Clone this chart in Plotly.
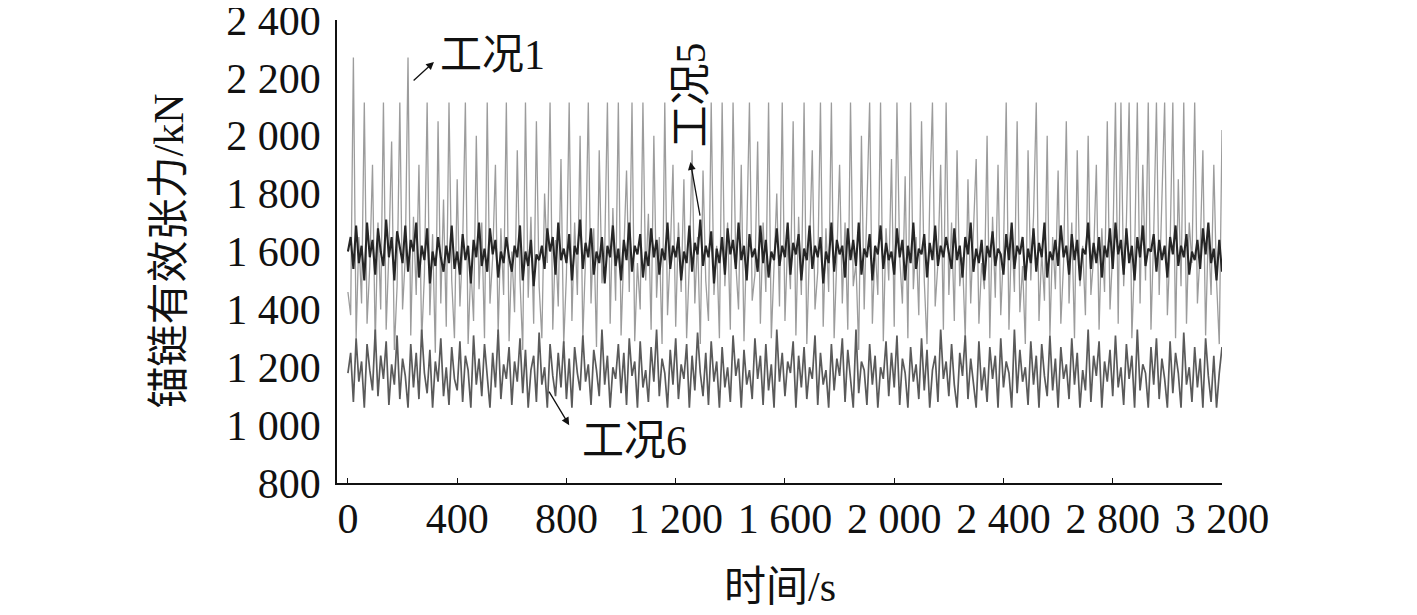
import plotly.graph_objects as go

# time axis (s), sampled every 10 s
time_s = list(range(0, 3201, 10))

# 工况1 (light gray)
case1 = [
    1460, 1380, 2270, 1300, 1650, 1420, 2115, 1350, 1550, 1900, 1280, 1700, 1400, 2115, 1330, 1600, 1980, 1260, 1480, 2115,
    1400, 1580, 2270, 1310, 1720, 1450, 1900, 1290, 1520, 2115, 1380, 1660, 1250, 2050, 1420, 1780, 1340, 2115, 1500, 1300,
    1850, 1410, 1620, 2115, 1280, 1550, 1360, 2000, 1470, 1700, 1300, 2115, 1420, 1580, 1900, 1320, 1680, 1450, 2115, 1290,
    1600, 1390, 1950, 1500, 1260, 2115, 1440, 1720, 1350, 2050, 1480, 1300, 1800, 1560, 2115, 1330, 1640, 1410, 1920, 1280,
    1520, 2115, 1360, 1700, 1450, 2000, 1300, 1580, 2115, 1420, 1680, 1270, 1950, 1490, 1600, 2115, 1350, 1750, 1430, 2115,
    1310, 1620, 1880, 1460, 2115, 1290, 1560, 1400, 2115, 1500, 1730, 1330, 2000, 1440, 1650, 1280, 2115, 1380, 1590, 1900,
    1340, 1700, 1460, 1850, 1300, 1560, 1950, 1420, 1650, 1280, 1880, 1500, 1360, 2115, 1450, 1620, 1300, 2115, 1480, 1700,
    1330, 2115, 1560, 1400, 1900, 1290, 1650, 2115, 1430, 1520, 1980, 1350, 1700, 1460, 2115, 1300, 1580, 1800, 1410, 2115,
    1360, 1640, 1470, 2050, 1310, 1720, 1450, 2115, 1280, 1600, 1950, 1400, 1530, 2115, 1340, 1680, 1460, 2115, 1300, 1580,
    1900, 1420, 1700, 1330, 2115, 1480, 1560, 1260, 2000, 1400, 1750, 2115, 1350, 1620, 1450, 2115, 1290, 1680, 1500, 1920,
    1340, 2115, 1580, 1420, 1860, 1300, 2115, 1470, 1650, 1380, 2050, 1500, 1280, 1780, 2115, 1410, 1560, 1900, 1330, 2115,
    1450, 1700, 1360, 1950, 1480, 1580, 1300, 1850, 1420, 1650, 1920, 1350, 1560, 1470, 2000, 1300, 1720, 1440, 1900, 1380,
    1600, 2115, 1330, 1680, 1460, 2050, 1390, 1550, 1280, 1950, 1500, 1720, 2115, 1360, 1600, 1430, 2000, 1310, 1650, 1470,
    1880, 1350, 1560, 2050, 1420, 1700, 1300, 1950, 1480, 1620, 1380, 2000, 1450, 1580, 1900, 1330, 1680, 1460, 2050, 1400,
    1600, 2115, 1350, 2115, 1480, 1700, 2115, 1300, 1580, 2115, 1420, 1900, 1500, 2115, 1330, 1660, 2115, 1450, 1750, 2115,
    1380, 1620, 2115, 1300, 1850, 1480, 2115, 1350, 1700, 1560, 2115, 1420, 1600, 1950, 1310, 1680, 1450, 1900, 1500, 1280,
    2020,
]

# 工况5 (dark)
case5 = [
    1600, 1650, 1540, 1690, 1560, 1620, 1500, 1700, 1580, 1640, 1520, 1680, 1600, 1550, 1710, 1580, 1650, 1500, 1670, 1610,
    1560, 1690, 1530, 1640, 1600, 1700, 1510, 1620, 1570, 1680, 1490, 1600, 1550, 1650, 1580, 1530, 1620, 1560, 1690, 1540,
    1600, 1520, 1660, 1570, 1620, 1490, 1640, 1580, 1700, 1550, 1610, 1530, 1680, 1590, 1640, 1510, 1600, 1560, 1650, 1580,
    1530, 1620, 1580, 1690, 1500, 1600, 1550, 1640, 1480, 1590, 1570, 1620, 1540, 1680, 1600, 1650, 1520, 1700, 1570, 1610,
    1560, 1660, 1500, 1620, 1590, 1710, 1540, 1630, 1580, 1680, 1520, 1600, 1560, 1650, 1490, 1620, 1580, 1690, 1550, 1610,
    1500, 1640, 1570, 1700, 1530, 1620, 1590, 1660, 1510, 1600, 1550, 1680, 1580, 1640, 1520, 1610, 1570, 1700, 1540, 1620,
    1580, 1650, 1500, 1600, 1560, 1690, 1530, 1630, 1590, 1710, 1550, 1620, 1580, 1670, 1490, 1610, 1560, 1650, 1520, 1680,
    1590, 1640, 1540, 1700, 1570, 1620, 1500, 1660, 1580, 1610, 1530, 1690, 1560, 1640, 1510, 1600, 1570, 1680, 1550, 1620,
    1580, 1700, 1520, 1630, 1590, 1660, 1500, 1610, 1570, 1690, 1540, 1620, 1580, 1650, 1490, 1600, 1560, 1700, 1530, 1640,
    1590, 1620, 1510, 1680, 1570, 1640, 1550, 1700, 1520, 1610, 1580, 1660, 1500, 1620, 1590, 1690, 1540, 1630, 1570, 1600,
    1520, 1680, 1580, 1640, 1500, 1620, 1560, 1700, 1540, 1610, 1590, 1660, 1510, 1630, 1570, 1690, 1550, 1620, 1580, 1650,
    1600, 1540, 1680, 1570, 1620, 1510, 1650, 1590, 1700, 1530, 1610, 1560, 1640, 1500, 1620, 1580, 1670, 1550, 1610, 1590,
    1520, 1660, 1570, 1700, 1540, 1620, 1590, 1650, 1500, 1610, 1560, 1680, 1530, 1630, 1580, 1700, 1510, 1600, 1570, 1640,
    1550, 1690, 1580, 1620, 1520, 1660, 1570, 1640, 1500, 1610, 1590, 1700, 1540, 1630, 1560, 1650, 1510, 1620, 1580, 1680,
    1540, 1700, 1590, 1640, 1520, 1680, 1560, 1620, 1500, 1650, 1580, 1690, 1550, 1610, 1600, 1660, 1530, 1640, 1570, 1620,
    1510, 1650, 1590, 1690, 1550, 1620, 1580, 1660, 1520, 1600, 1570, 1640, 1540, 1680, 1590, 1700, 1560, 1610, 1500, 1640,
    1530,
]

# 工况6 (medium gray)
case6 = [
    1180, 1250, 1080, 1300, 1150, 1220, 1060, 1280, 1190, 1120, 1330, 1100, 1240, 1160, 1290, 1070, 1210, 1140, 1310, 1090,
    1230, 1170, 1060, 1280, 1130, 1250, 1090, 1330, 1180, 1110, 1260, 1060, 1220, 1150, 1300, 1100, 1200, 1070, 1270, 1160,
    1120, 1290, 1080, 1240, 1190, 1060, 1310, 1140, 1230, 1100, 1280, 1170, 1060, 1250, 1130, 1330, 1090, 1210, 1160, 1270,
    1070, 1220, 1150, 1300, 1110, 1260, 1060, 1190, 1240, 1080, 1320, 1140, 1200, 1060, 1280, 1170, 1100, 1250, 1130, 1290,
    1090, 1230, 1060, 1270, 1180, 1120, 1310, 1150, 1210, 1070, 1260, 1190, 1100, 1330, 1140, 1240, 1060, 1200, 1160, 1280,
    1110, 1250, 1070, 1300, 1170, 1220, 1060, 1290, 1130, 1190, 1080, 1270, 1150, 1330, 1100, 1230, 1180, 1060, 1260, 1140,
    1300, 1090, 1210, 1160, 1280, 1060, 1240, 1120, 1320, 1180, 1100, 1250, 1070, 1290, 1150, 1220, 1060, 1270, 1130, 1200,
    1080, 1310, 1170, 1230, 1060, 1260, 1140, 1190, 1090, 1300, 1160, 1240, 1070, 1280, 1120, 1210, 1060, 1330, 1150, 1250,
    1100, 1220, 1180, 1290, 1060, 1240, 1130, 1270, 1090, 1200, 1160, 1310, 1070, 1250, 1140, 1190, 1060, 1280, 1120, 1230,
    1170, 1300, 1080, 1260, 1150, 1060, 1330, 1110, 1220, 1190, 1070, 1280, 1140, 1240, 1060, 1200, 1160, 1290, 1100, 1250,
    1130, 1310, 1070, 1230, 1180, 1060, 1270, 1150, 1210, 1090, 1300, 1120, 1260, 1060, 1190, 1240, 1080, 1330, 1160, 1220,
    1100, 1280, 1140, 1060, 1250, 1170, 1310, 1090, 1230, 1150, 1060, 1290, 1120, 1200, 1080, 1270, 1160, 1240, 1060, 1300,
    1130, 1220, 1180, 1060, 1330, 1110, 1260, 1150, 1200, 1070, 1290, 1140, 1240, 1060, 1280, 1170, 1100, 1310, 1120, 1230,
    1060, 1270, 1160, 1210, 1090, 1300, 1140, 1250, 1060, 1190, 1120, 1330, 1080, 1240, 1170, 1290, 1060, 1220, 1150, 1260,
    1100, 1310, 1130, 1200, 1070, 1280, 1160, 1240, 1060, 1330, 1120, 1210, 1180, 1060, 1270, 1140, 1300, 1090, 1230, 1160,
    1060, 1290, 1110, 1250, 1180, 1060, 1320, 1140, 1200, 1080, 1270, 1130, 1230, 1060, 1300, 1170, 1080, 1240, 1060, 1180,
    1270,
]

x_tickvals = [0, 400, 800, 1200, 1600, 2000, 2400, 2800, 3200]
x_ticktext = ["0", "400", "800", "1 200", "1 600", "2 000", "2 400", "2 800", "3 200"]
y_tickvals = [800, 1000, 1200, 1400, 1600, 1800, 2000, 2200, 2400]
y_ticktext = ["800", "1 000", "1 200", "1 400", "1 600", "1 800", "2 000", "2 200", "2 400"]

FONT = "Liberation Serif, Times New Roman, Noto Sans CJK SC, serif"

fig = go.Figure()
fig.add_trace(go.Scatter(x=time_s, y=case1, mode="lines", name="工况1",
                         line=dict(color="#9c9c9c", width=1.3)))
fig.add_trace(go.Scatter(x=time_s, y=case6, mode="lines", name="工况6",
                         line=dict(color="#5a5a5a", width=1.7)))
fig.add_trace(go.Scatter(x=time_s, y=case5, mode="lines", name="工况5",
                         line=dict(color="#262626", width=2.1)))

# text labels
fig.add_annotation(x=528, y=2279, text="工况1", showarrow=False,
                   font=dict(family=FONT, size=42, color="#111"))
fig.add_annotation(x=1254, y=2141, text="工况5", showarrow=False, textangle=-90,
                   font=dict(family=FONT, size=42, color="#111"))
fig.add_annotation(x=1048, y=945, text="工况6", showarrow=False,
                   font=dict(family=FONT, size=42, color="#111"))

# arrows (head, tail in data coordinates)
for hx, hy, tx, ty in [(315, 2255, 235, 2186), (1254, 1909, 1290, 1719), (810, 1000, 733, 1121)]:
    fig.add_annotation(x=hx, y=hy, ax=tx, ay=ty, xref="x", yref="y", axref="x", ayref="y",
                       text="", showarrow=True, arrowhead=2, arrowsize=1.2, arrowwidth=1.3,
                       arrowcolor="#111", standoff=0, startstandoff=0)

# axis titles
fig.add_annotation(xref="paper", yref="paper", x=0, y=0.5, xshift=-169, xanchor="center",
                   yanchor="middle", text="锚链有效张力/kN", textangle=-90, showarrow=False,
                   font=dict(family=FONT, size=42, color="#111"))
fig.add_annotation(xref="paper", yref="paper", x=0.5, y=0, yshift=-104, xanchor="center",
                   yanchor="middle", text="时间/s", showarrow=False,
                   font=dict(family=FONT, size=42, color="#111"))

# page body has an 8 px margin, so the figure is sized/offset to compensate
fig.update_layout(
    width=1409, height=607,
    margin=dict(l=329, r=195, t=12, b=132, autoexpand=False),
    paper_bgcolor="white", plot_bgcolor="white",
    showlegend=False,
    font=dict(family=FONT, size=42, color="#111"),
)
fig.update_xaxes(range=[-40, 3200], tickvals=x_tickvals, ticktext=x_ticktext, automargin=False,
                 showgrid=False, zeroline=False, showline=True, linecolor="#111", linewidth=1.5,
                 ticks="inside", ticklen=5, tickcolor="#111", ticklabelstandoff=-2,
                 ticklabeloverflow="allow",
                 tickfont=dict(family=FONT, size=42, color="#111"))
fig.update_yaxes(range=[800, 2400], tickvals=y_tickvals, ticktext=y_ticktext, automargin=False,
                 showgrid=False, zeroline=False, showline=True, linecolor="#111", linewidth=1.5,
                 ticks="", ticklabelstandoff=6, ticklabeloverflow="allow",
                 tickfont=dict(family=FONT, size=42, color="#111"))

fig.write_html("out.html")
